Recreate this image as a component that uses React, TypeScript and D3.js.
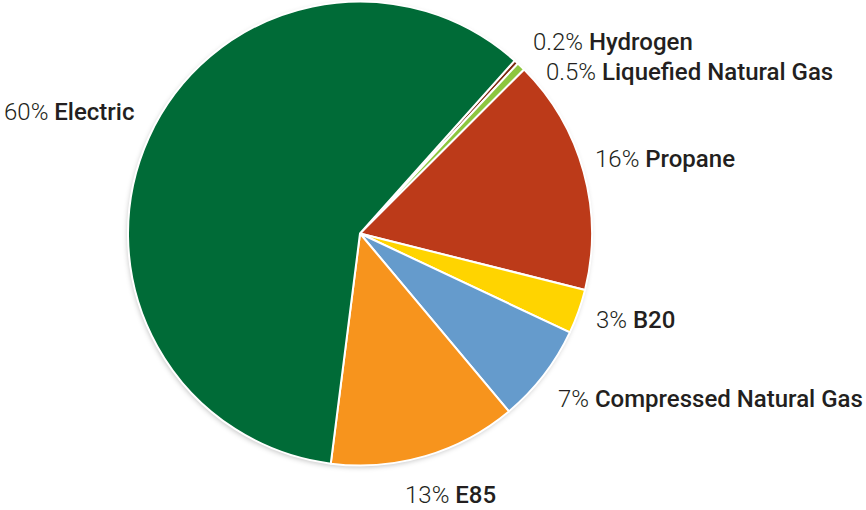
import React from "react";
import * as d3 from "d3";

const categories = ["Hydrogen", "Liquefied Natural Gas", "Propane", "B20", "Compressed Natural Gas", "E85", "Electric"];
const values = [0.3, 0.6, 16.4, 3.1, 6.9, 13.1, 59.6];
const percentLabels = ["0.2%", "0.5%", "16%", "3%", "7%", "13%", "60%"];
const colors = ["#7d2a12", "#8dc63f", "#bc3a19", "#ffd400", "#659bcc", "#f7941d", "#006b37"];
// label anchor positions (left x, baseline y)
const labelPos: [number, number][] = [
  [533, 50],
  [546, 80],
  [595, 167],
  [596, 328],
  [558, 407],
  [405, 503],
  [4, 120],
];

const W = 866, H = 510;
const cx = 360, cy = 233.5, R = 232;
const startDeg = 41.8;

export default function App() {
  const pie = d3.pie<number>().sort(null).value((d) => d)
    .startAngle((startDeg * Math.PI) / 180)
    .endAngle((startDeg * Math.PI) / 180 + 2 * Math.PI);
  const arcs = pie(values);
  const arc = d3.arc<d3.PieArcDatum<number>>().innerRadius(0).outerRadius(R);
  const font = "Roboto, 'Open Sans', sans-serif";
  return (
    <svg width={W} height={H} style={{ position: "absolute", left: 0, top: 0 }}>
      <defs>
        <filter id="sh" x="-10%" y="-10%" width="120%" height="120%">
          <feDropShadow dx="-1" dy="2" stdDeviation="2.5" floodColor="#000" floodOpacity="0.22" />
        </filter>
      </defs>
      <rect width={W} height={H} fill="#fff" />
      <circle cx={cx} cy={cy} r={R} fill="#fff" filter="url(#sh)" />
      <g transform={`translate(${cx},${cy})`}>
        {arcs.map((a, i) => (
          <path key={i} d={arc(a) || ""} fill={colors[i]} stroke="#fff" strokeWidth={2} strokeLinejoin="round" />
        ))}
      </g>
      {categories.map((c, i) => (
        <text key={c} x={labelPos[i][0]} y={labelPos[i][1]} fontFamily={font} fontSize={24} fill="#231f20">
          <tspan fontWeight={300}>{percentLabels[i]} </tspan>
          <tspan fontWeight={500}>{c}</tspan>
        </text>
      ))}
    </svg>
  );
}
